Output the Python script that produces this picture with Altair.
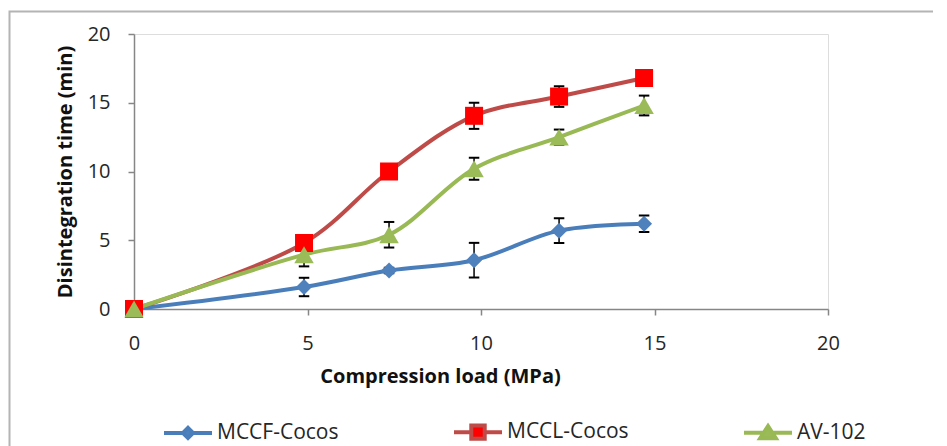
import altair as alt
import pandas as pd

# ---------------- data ----------------
series_names = ["MCCF-Cocos", "MCCL-Cocos", "AV-102"]
load_mpa = [0, 4.9, 7.35, 9.8, 12.25, 14.7]

mccf_time = [0, 1.6, 2.8, 3.55, 5.7, 6.2]
mccf_err = [0, 0.67, 0.2, 1.26, 0.9, 0.6]

mccl_time = [0, 4.8, 10.0, 14.05, 15.45, 16.8]
mccl_err = [0, 0.3, 0.3, 0.95, 0.75, 0.4]

av_time = [0, 3.95, 5.4, 10.2, 12.5, 14.8]
av_err = [0, 0.85, 0.93, 0.8, 0.55, 0.72]

x_ticks = [0, 5, 10, 15, 20]
y_ticks = [0, 5, 10, 15, 20]

line_colors = ["#4A7EBB", "#BE4B48", "#98B954"]
marker_fills = ["#4F81BD", "#FF0000", "#9BBB59"]
marker_shapes = ["diamond", "square", "triangle-up"]
marker_sizes = [256, 324, 380]
# legend symbols: a line with the marker in the middle (unit coords)
legend_paths = [
    "M-2,0H-0.42M0.42,0H2M0,-0.42L0.42,0L0,0.42L-0.42,0Z",
    "M-2,0H-0.56M0.56,0H2M-0.56,-0.56H0.56V0.56H-0.56Z",
    "M-2,0H-0.36M0.36,0H2M0,-0.55L0.65,0.45H-0.65Z",
]

# ---------------- table ----------------
rows = []
for order, (name, ys, es) in enumerate(zip(series_names,
                                           [mccf_time, mccl_time, av_time],
                                           [mccf_err, mccl_err, av_err])):
    for x, y, e in zip(load_mpa, ys, es):
        rows.append({"series": name, "order": order, "load": x,
                     "time": y, "lo": y - e, "hi": y + e})
df = pd.DataFrame(rows)

FONT = "Open Sans"
TXT = "#262626"
AXC = "#868686"

x_enc = alt.X("load:Q", scale=alt.Scale(domain=[0, 20], nice=False),
              axis=alt.Axis(values=x_ticks, title="Compression load (MPa)", grid=False,
                            labelFlush=False, labelOverlap=False,
                            tickSize=6, tickColor=AXC, domainColor=AXC, tickWidth=1.5,
                            domainWidth=1.5, labelFontSize=20, labelPadding=18,
                            labelColor=TXT, labelFont=FONT,
                            titleFontSize=20, titleFontWeight="bold", titleColor="#111111",
                            titleFont=FONT, titleX=306, titleY=67, titleAlign="center",
                            titleBaseline="middle", titleAnchor="start"))
y_enc = alt.Y("time:Q", scale=alt.Scale(domain=[0, 20], nice=False),
              axis=alt.Axis(values=y_ticks, title="Disintegration time (min)", grid=False,
                            labelFlush=False, labelOverlap=False,
                            tickSize=6, tickColor=AXC, domainColor=AXC, tickWidth=1.5,
                            domainWidth=1.5, labelFontSize=20, labelPadding=18,
                            labelColor=TXT, labelFont=FONT,
                            titleFontSize=20, titleFontWeight="bold", titleColor="#111111",
                            titleFont=FONT, titleX=-69, titleY=137.5, titleAlign="center",
                            titleBaseline="middle", titleAnchor="start"))

base = alt.Chart(df)

line_layers = [
    base.transform_filter(alt.datum.series == name).mark_line(
        interpolate="catmull-rom", strokeWidth=4, color=col
    ).encode(x=x_enc, y=y_enc)
    for name, col in zip(series_names, line_colors)
]

err_rules = base.mark_rule(color="black", strokeWidth=1.5).encode(
    x="load:Q", y="lo:Q", y2="hi:Q")
err_lo = base.mark_point(shape="stroke", size=110, color="black", strokeWidth=2,
                         opacity=1).encode(x="load:Q", y="lo:Q")
err_hi = base.mark_point(shape="stroke", size=110, color="black", strokeWidth=2,
                         opacity=1).encode(x="load:Q", y="hi:Q")

marker_layers = [
    base.transform_filter(alt.datum.series == name).mark_point(
        filled=True, shape=shp, size=sz, color=col, opacity=1, strokeWidth=0
    ).encode(x="load:Q", y="time:Q")
    for name, shp, sz, col in zip(series_names, marker_shapes, marker_sizes, marker_fills)
]

legend_def = alt.Legend(orient="none", direction="horizontal", title=None, padding=0,
                        legendX=40, legendY=384, gridAlign="all", columnPadding=107,
                        symbolSize=576, symbolStrokeWidth=4, labelOffset=15,
                        labelFont=FONT, labelFontSize=21, labelColor=TXT)

legend_layer = base.transform_filter("datum.load < 0").mark_point(
    filled=True, opacity=1).encode(
    x="load:Q", y="time:Q",
    fill=alt.Fill("series:N", scale=alt.Scale(domain=series_names, range=marker_fills),
                  legend=legend_def),
    stroke=alt.Stroke("series:N", scale=alt.Scale(domain=series_names, range=line_colors),
                      legend=legend_def),
    shape=alt.Shape("series:N", scale=alt.Scale(domain=series_names, range=legend_paths),
                    legend=legend_def),
)

frame = alt.Chart(pd.DataFrame({"k": [0]})).mark_rect(
    filled=False, stroke="#B4B4B4", strokeWidth=2).encode(
    x=alt.value(-124.5), x2=alt.value(830), y=alt.value(-22.5), y2=alt.value(440))

chart = alt.layer(frame, *line_layers, err_rules, err_lo, err_hi, *marker_layers,
                  legend_layer).properties(
    width=694, height=275,
    autosize=alt.AutoSizeParams(type="none"),
    padding={"left": 126, "top": 26, "right": 105, "bottom": 137},
    background="white",
).configure_view(stroke=None).configure(font=FONT)

chart.save("out.html", embed_options={"renderer": "svg", "actions": False})
